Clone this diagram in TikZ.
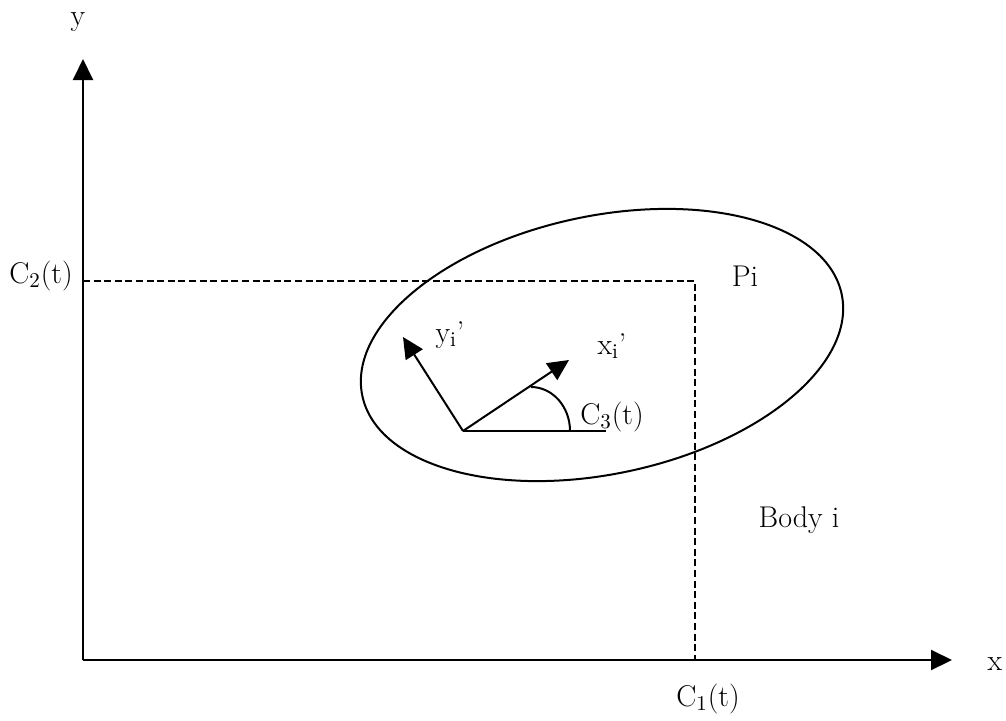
\documentclass[tikz,border=0pt]{standalone}
\usepackage{fontspec}
\usetikzlibrary{arrows.meta}
\begin{document}
\begin{tikzpicture}[x=0.5pt,y=0.5pt,line width=1pt,
    font=\fontsize{15}{18}\selectfont,
    vec/.style={-{Triangle[length=10.5pt,width=10pt]}},
    guide/.style={dash pattern=on 3.5pt off 1.8pt}]
    % --- 定义坐标和参数 ---
    \def\Cone{695}      % 质心 x 坐标 C1(t)
    \def\Ctwo{439}      % 质心 y 坐标 C2(t)
    \useasboundingbox (0,0) rectangle (1006,720);

    % --- 绘制坐标轴 ---
    \coordinate (O) at (83,60);
    \coordinate (ytip) at (83,661);
    \coordinate (xtip) at (952,60);
    \draw[vec] (O) -- (ytip);
    \draw[vec] (O) -- (xtip);
    \node[anchor=base] (ylab) at (78,695) {y};
    \node[anchor=base] (xlab) at (995,50) {x};

    % --- 虚线: 质心位置 ---
    \coordinate (Cy) at (83,\Ctwo);
    \coordinate (Pi) at (\Cone,\Ctwo);
    \coordinate (Cx) at (\Cone,60);
    \draw[guide] (Cy) -- (Pi) -- (Cx);
    \node[anchor=base] (C1lab) at (708,14) {C\textsubscript{1}(t)};
    \node[anchor=base] (C2lab) at (41,437) {C\textsubscript{2}(t)};

    % --- 物体 i (椭圆) ---
    \draw[rotate around={12:(602,375)}] (602,375) ellipse[x radius=245,y radius=129];
    \node[anchor=base] (Pilab) at (745,434) {Pi};
    \node[anchor=base] (body) at (799,193) {Body i};

    % --- 局部坐标系 x_i', y_i' ---
    \coordinate (P) at (463,289);
    \coordinate (xp) at (569,360);
    \coordinate (yp) at (403,383);
    \coordinate (hend) at (606,289);
    \draw[vec] (P) -- (xp);
    \draw[vec] (P) -- (yp);
    \draw (P) -- (hend);
    % 转角 C3(t) 的弧线
    \coordinate (arcst) at (570,289);
    \draw (arcst) arc[start angle=0,end angle=90,x radius=39,y radius=44];
    \node[anchor=base] (xplab) at (612,366) {x\textsubscript{i}’};
    \node[anchor=base] (yplab) at (450,378) {y\textsubscript{i}’};
    \node[anchor=base] (C3lab) at (612,296) {C\textsubscript{3}(t)};
\end{tikzpicture}
\end{document}
